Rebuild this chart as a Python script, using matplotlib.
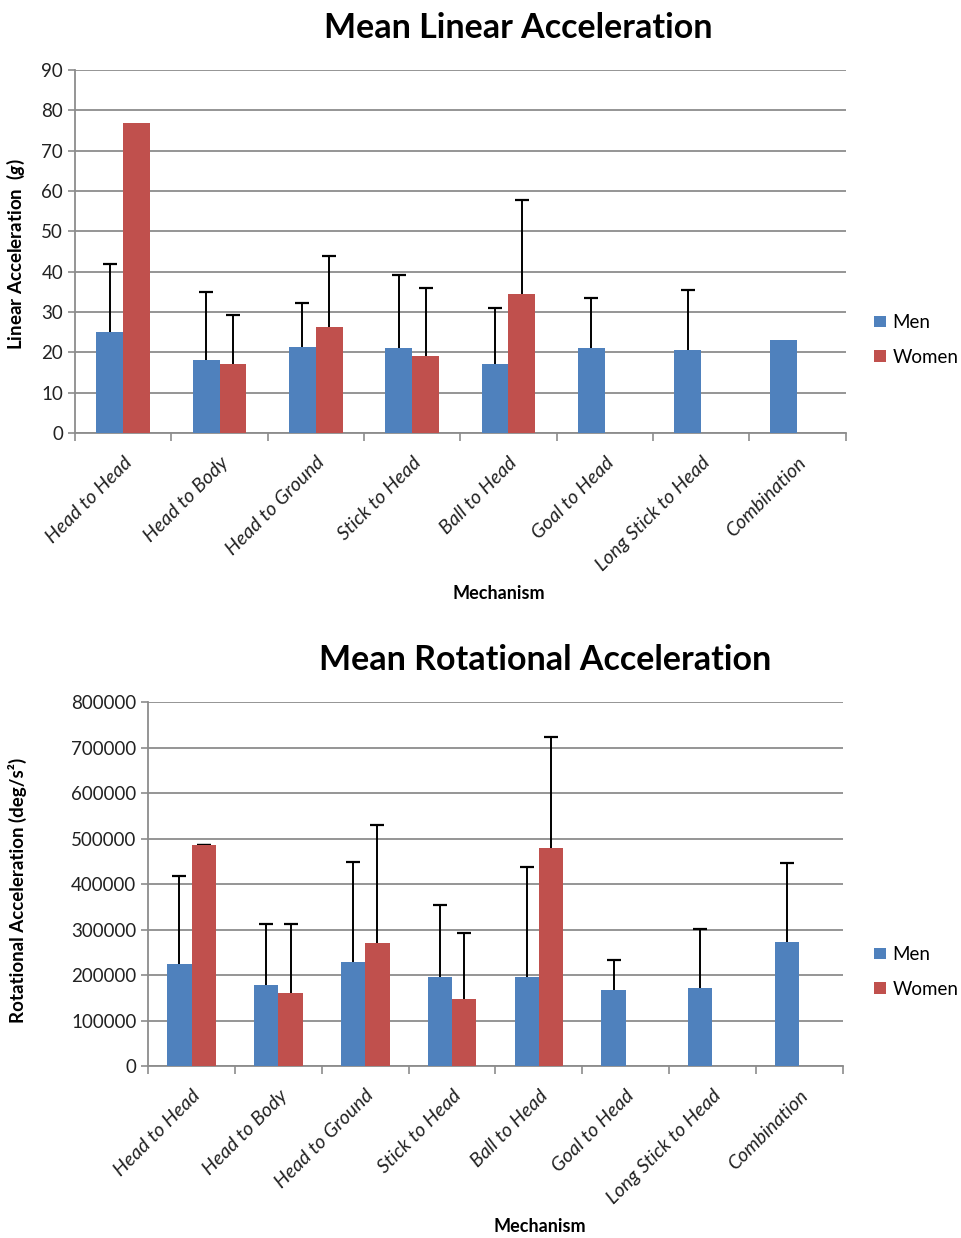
import matplotlib
matplotlib.use("Agg")
import matplotlib.pyplot as plt
import numpy as np
from matplotlib.ticker import FuncFormatter

plt.rcParams["font.family"] = ["Lato", "DejaVu Sans"]
plt.rcParams["mathtext.fontset"] = "custom"
plt.rcParams["mathtext.it"] = "Lato:italic:bold"

mechanisms = ["Head to Head", "Head to Body", "Head to Ground", "Stick to Head",
              "Ball to Head", "Goal to Head", "Long Stick to Head", "Combination"]

# linear acceleration (g) - mean and upper error
lin_men = [25, 18.2, 21.4, 21, 17.2, 21, 20.6, 23]
lin_men_err = [17, 16.8, 10.9, 18.3, 13.7, 12.5, 14.9, np.nan]
lin_women = [77, 17.1, 26.3, 19, 34.5, np.nan, np.nan, np.nan]
lin_women_err = [np.nan, 12.2, 17.7, 16.9, 23.2, np.nan, np.nan, np.nan]

# rotational acceleration (deg/s^2)
rot_men = [225000, 178000, 228000, 195000, 195000, 168000, 171000, 273000]
rot_men_err = [193000, 135000, 220000, 158000, 243000, 65000, 131000, 174000]
rot_women = [485000, 160000, 270000, 148000, 480000, np.nan, np.nan, np.nan]
rot_women_err = [0, 153000, 260000, 144000, 243000, np.nan, np.nan, np.nan]

BLUE = "#4F81BD"
RED = "#C0504D"
GRID = "#8c8c8c"


def draw_panel(ax, men, men_err, women, women_err, ymax, ystep, title, ylabel,
               title_x, legend_y, fig):
    x = np.arange(len(mechanisms))
    w = 0.28
    ax.bar(x - w / 2, men, w, color=BLUE, label="Men", zorder=3)
    ax.bar(x + w / 2, women, w, color=RED, label="Women", zorder=3)
    # error bars sit behind the bars so only the upper half shows
    for xs, ys, es in [(x - w / 2, men, men_err), (x + w / 2, women, women_err)]:
        ax.errorbar(xs, ys, yerr=es, fmt="none", ecolor="black",
                    elinewidth=1.4, capsize=5, capthick=1.6, zorder=2)

    ax.set_xlim(-0.5, len(mechanisms) - 0.5)
    ax.set_ylim(0, ymax)
    ax.set_yticks(np.arange(0, ymax + ystep / 2, ystep))
    ax.yaxis.set_major_formatter(FuncFormatter(lambda v, p: f"{int(v)}"))
    ax.grid(axis="y", color=GRID, linewidth=1.3, zorder=0)

    # category boundaries carry tick marks, labels sit at the centers
    ax.set_xticks(np.arange(-0.5, len(mechanisms)), minor=False)
    ax.set_xticklabels([])
    ax.set_xticks(x, minor=True)
    ax.set_xticklabels(mechanisms, minor=True, rotation=45, ha="right",
                       rotation_mode="anchor", style="italic", fontsize=14,
                       color="#222222")
    ax.tick_params(axis="x", which="minor", length=0, pad=15)
    ax.tick_params(axis="x", which="major", length=6, color=GRID, width=1.2)
    ax.tick_params(axis="y", length=5, color=GRID, width=1.2, labelsize=13.5,
                   labelcolor="#222222")

    for s in ["top", "right"]:
        ax.spines[s].set_visible(False)
    for s in ["left", "bottom"]:
        ax.spines[s].set_color(GRID)
        ax.spines[s].set_linewidth(1.3)

    ax.set_title(title, fontsize=24.5, fontweight="bold", x=title_x, pad=23)
    ax.set_ylabel(ylabel, fontweight="bold", fontsize=13.5)
    ax.set_xlabel("Mechanism", fontweight="bold", fontsize=13)

    ax.legend(loc="center left", bbox_to_anchor=(0.909, legend_y),
              bbox_transform=fig.transFigure, frameon=False, fontsize=13.5,
              handlelength=0.6, handleheight=0.6, handletextpad=0.35,
              labelspacing=0.95, borderpad=0, borderaxespad=0)


fig = plt.figure(figsize=(9.62, 12.38), dpi=100)
ax1 = fig.add_axes([0.078, 0.6502, 0.801, 0.2932])
ax2 = fig.add_axes([0.154, 0.1389, 0.722, 0.294])

draw_panel(ax1, lin_men, lin_men_err, lin_women, lin_women_err, 90, 10,
           "Mean Linear Acceleration", r"Linear Acceleration  ($\it{g}$)",
           0.575, 1 - 340 / 1238, fig)
draw_panel(ax2, rot_men, rot_men_err, rot_women, rot_women_err, 800000, 100000,
           "Mean Rotational Acceleration", "Rotational Acceleration (deg/s²)",
           0.571, 1 - 972 / 1238, fig)

# axis-label positions in axes coordinates
ax1.yaxis.set_label_coords((27 - 75) / 771, (433 - 254) / 363)
ax1.xaxis.set_label_coords((499 - 75) / 771, -(585 - 433) / 363)
ax2.yaxis.set_label_coords((27 - 148) / 695, (1066 - 890) / 364)
ax2.xaxis.set_label_coords((540 - 148) / 695, -(1218 - 1066) / 364)

fig.savefig("out.png", dpi=100)
